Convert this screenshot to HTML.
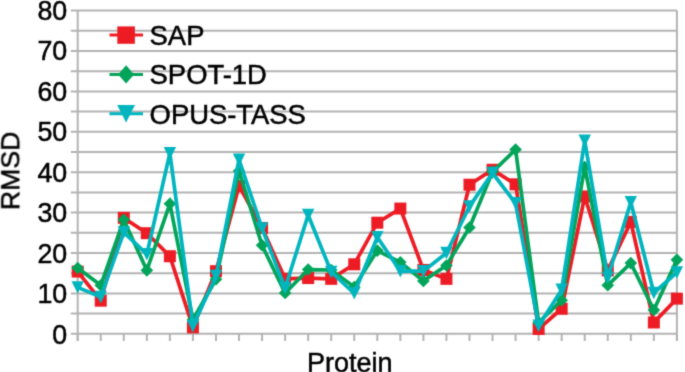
<!DOCTYPE html>
<html><head><meta charset="utf-8"><style>
html,body{margin:0;padding:0;background:#fff;}
body{width:685px;height:372px;overflow:hidden;}
svg{display:block;will-change:transform;}
text{font-family:"Liberation Sans",sans-serif;fill:#000;stroke:#000;stroke-width:0.5px;}
</style></head><body>
<svg width="685" height="372" viewBox="0 0 685 372">
<defs><filter id="bl" x="-5%" y="-5%" width="110%" height="110%" color-interpolation-filters="sRGB"><feConvolveMatrix order="3" kernelMatrix="0.02250 0.10500 0.02250 0.10500 0.49000 0.10500 0.02250 0.10500 0.02250" edgeMode="none"/></filter></defs>
<rect width="685" height="372" fill="#fff"/>
<g filter="url(#bl)">
<g stroke="#b3b3b3" stroke-width="2" fill="none">
<line x1="70.8" y1="333.80" x2="676.9" y2="333.80"/>
<line x1="70.8" y1="313.60" x2="676.9" y2="313.60"/>
<line x1="70.8" y1="293.40" x2="676.9" y2="293.40"/>
<line x1="70.8" y1="273.20" x2="676.9" y2="273.20"/>
<line x1="70.8" y1="253.00" x2="676.9" y2="253.00"/>
<line x1="70.8" y1="232.80" x2="676.9" y2="232.80"/>
<line x1="70.8" y1="212.60" x2="676.9" y2="212.60"/>
<line x1="70.8" y1="192.40" x2="676.9" y2="192.40"/>
<line x1="70.8" y1="172.20" x2="676.9" y2="172.20"/>
<line x1="70.8" y1="152.00" x2="676.9" y2="152.00"/>
<line x1="70.8" y1="131.80" x2="676.9" y2="131.80"/>
<line x1="70.8" y1="111.60" x2="676.9" y2="111.60"/>
<line x1="70.8" y1="91.40" x2="676.9" y2="91.40"/>
<line x1="70.8" y1="71.20" x2="676.9" y2="71.20"/>
<line x1="70.8" y1="51.00" x2="676.9" y2="51.00"/>
<line x1="70.8" y1="30.80" x2="676.9" y2="30.80"/>
<line x1="70.8" y1="10.60" x2="676.9" y2="10.60"/>
<line x1="676.9" y1="10.4" x2="676.9" y2="341"/>
<line x1="77.7" y1="10.4" x2="77.7" y2="341"/>
<line x1="77.70" y1="333.8" x2="77.70" y2="341"/>
<line x1="100.75" y1="333.8" x2="100.75" y2="341"/>
<line x1="123.79" y1="333.8" x2="123.79" y2="341"/>
<line x1="146.84" y1="333.8" x2="146.84" y2="341"/>
<line x1="169.88" y1="333.8" x2="169.88" y2="341"/>
<line x1="192.93" y1="333.8" x2="192.93" y2="341"/>
<line x1="215.98" y1="333.8" x2="215.98" y2="341"/>
<line x1="239.02" y1="333.8" x2="239.02" y2="341"/>
<line x1="262.07" y1="333.8" x2="262.07" y2="341"/>
<line x1="285.12" y1="333.8" x2="285.12" y2="341"/>
<line x1="308.16" y1="333.8" x2="308.16" y2="341"/>
<line x1="331.21" y1="333.8" x2="331.21" y2="341"/>
<line x1="354.25" y1="333.8" x2="354.25" y2="341"/>
<line x1="377.30" y1="333.8" x2="377.30" y2="341"/>
<line x1="400.35" y1="333.8" x2="400.35" y2="341"/>
<line x1="423.39" y1="333.8" x2="423.39" y2="341"/>
<line x1="446.44" y1="333.8" x2="446.44" y2="341"/>
<line x1="469.48" y1="333.8" x2="469.48" y2="341"/>
<line x1="492.53" y1="333.8" x2="492.53" y2="341"/>
<line x1="515.58" y1="333.8" x2="515.58" y2="341"/>
<line x1="538.62" y1="333.8" x2="538.62" y2="341"/>
<line x1="561.67" y1="333.8" x2="561.67" y2="341"/>
<line x1="584.72" y1="333.8" x2="584.72" y2="341"/>
<line x1="607.76" y1="333.8" x2="607.76" y2="341"/>
<line x1="630.81" y1="333.8" x2="630.81" y2="341"/>
<line x1="653.85" y1="333.8" x2="653.85" y2="341"/>
<line x1="676.90" y1="333.8" x2="676.90" y2="341"/>
</g>
<g font-size="26.8">
<text x="67.2" y="343.70" text-anchor="end">0</text>
<text x="67.2" y="303.21" text-anchor="end">10</text>
<text x="67.2" y="262.72" text-anchor="end">20</text>
<text x="67.2" y="222.24" text-anchor="end">30</text>
<text x="67.2" y="181.75" text-anchor="end">40</text>
<text x="67.2" y="141.26" text-anchor="end">50</text>
<text x="67.2" y="100.77" text-anchor="end">60</text>
<text x="67.2" y="60.28" text-anchor="end">70</text>
<text x="67.2" y="19.80" text-anchor="end">80</text>
</g>
<text font-size="26.6" transform="translate(19.3,170.8) rotate(-90)" text-anchor="middle">RMSD</text>
<text font-size="27" x="349.8" y="372" text-anchor="middle">Protein</text>
<g font-size="27.4">
<line x1="109.5" y1="35.10" x2="143.0" y2="35.10" stroke="#ed1c24" stroke-width="3"/>
<rect x="117.30" y="26.40" width="17.60" height="17.40" fill="#ed1c24"/>
<text x="149.6" y="45.10">SAP</text>
<line x1="109.5" y1="74.40" x2="143.0" y2="74.40" stroke="#02a45a" stroke-width="3"/>
<path d="M126.10 65.20L134.10 74.40L126.10 83.60L118.10 74.40Z" fill="#02a45a"/>
<text x="149.6" y="84.40">SPOT-1D</text>
<line x1="109.5" y1="113.70" x2="143.0" y2="113.70" stroke="#00b5be" stroke-width="3"/>
<path d="M117.20 105.00L135.00 105.00L126.10 122.40Z" fill="#00b5be"/>
<text x="149.6" y="123.70">OPUS-TASS</text>
</g>
<polyline points="77.70,271.58 100.75,300.67 123.79,217.85 146.84,233.20 169.88,256.23 192.93,327.34 215.98,271.18 239.02,185.94 262.07,227.95 285.12,278.86 308.16,278.05 331.21,278.86 354.25,264.31 377.30,222.70 400.35,208.56 423.39,269.97 446.44,278.86 469.48,184.72 492.53,169.78 515.58,184.32 538.62,328.95 561.67,308.75 584.72,196.44 607.76,270.37 630.81,221.89 653.85,322.49 676.90,298.65" fill="none" stroke="#ed1c24" stroke-width="3.7" stroke-linejoin="miter"/>
<rect x="71.70" y="265.58" width="12.00" height="12.00" fill="#ed1c24"/>
<rect x="94.75" y="294.67" width="12.00" height="12.00" fill="#ed1c24"/>
<rect x="117.79" y="211.85" width="12.00" height="12.00" fill="#ed1c24"/>
<rect x="140.84" y="227.20" width="12.00" height="12.00" fill="#ed1c24"/>
<rect x="163.88" y="250.23" width="12.00" height="12.00" fill="#ed1c24"/>
<rect x="186.93" y="321.34" width="12.00" height="12.00" fill="#ed1c24"/>
<rect x="209.98" y="265.18" width="12.00" height="12.00" fill="#ed1c24"/>
<rect x="233.02" y="179.94" width="12.00" height="12.00" fill="#ed1c24"/>
<rect x="256.07" y="221.95" width="12.00" height="12.00" fill="#ed1c24"/>
<rect x="279.12" y="272.86" width="12.00" height="12.00" fill="#ed1c24"/>
<rect x="302.16" y="272.05" width="12.00" height="12.00" fill="#ed1c24"/>
<rect x="325.21" y="272.86" width="12.00" height="12.00" fill="#ed1c24"/>
<rect x="348.25" y="258.31" width="12.00" height="12.00" fill="#ed1c24"/>
<rect x="371.30" y="216.70" width="12.00" height="12.00" fill="#ed1c24"/>
<rect x="394.35" y="202.56" width="12.00" height="12.00" fill="#ed1c24"/>
<rect x="417.39" y="263.97" width="12.00" height="12.00" fill="#ed1c24"/>
<rect x="440.44" y="272.86" width="12.00" height="12.00" fill="#ed1c24"/>
<rect x="463.48" y="178.72" width="12.00" height="12.00" fill="#ed1c24"/>
<rect x="486.53" y="163.78" width="12.00" height="12.00" fill="#ed1c24"/>
<rect x="509.58" y="178.32" width="12.00" height="12.00" fill="#ed1c24"/>
<rect x="532.62" y="322.95" width="12.00" height="12.00" fill="#ed1c24"/>
<rect x="555.67" y="302.75" width="12.00" height="12.00" fill="#ed1c24"/>
<rect x="578.72" y="190.44" width="12.00" height="12.00" fill="#ed1c24"/>
<rect x="601.76" y="264.37" width="12.00" height="12.00" fill="#ed1c24"/>
<rect x="624.81" y="215.89" width="12.00" height="12.00" fill="#ed1c24"/>
<rect x="647.85" y="316.49" width="12.00" height="12.00" fill="#ed1c24"/>
<rect x="670.90" y="292.65" width="12.00" height="12.00" fill="#ed1c24"/>
<polyline points="77.70,267.95 100.75,285.32 123.79,219.87 146.84,270.37 169.88,203.71 192.93,319.66 215.98,279.26 239.02,170.99 262.07,245.32 285.12,293.00 308.16,269.56 331.21,269.97 354.25,286.94 377.30,250.58 400.35,262.29 423.39,280.88 446.44,265.52 469.48,227.55 492.53,171.80 515.58,149.58 538.62,322.49 561.67,300.27 584.72,166.95 607.76,285.32 630.81,263.10 653.85,309.96 676.90,259.87" fill="none" stroke="#02a45a" stroke-width="3.7" stroke-linejoin="miter"/>
<path d="M77.70 261.65L84.00 267.95L77.70 274.25L71.40 267.95Z" fill="#02a45a"/>
<path d="M100.75 279.02L107.05 285.32L100.75 291.62L94.45 285.32Z" fill="#02a45a"/>
<path d="M123.79 213.57L130.09 219.87L123.79 226.17L117.49 219.87Z" fill="#02a45a"/>
<path d="M146.84 264.07L153.14 270.37L146.84 276.67L140.54 270.37Z" fill="#02a45a"/>
<path d="M169.88 197.41L176.18 203.71L169.88 210.01L163.58 203.71Z" fill="#02a45a"/>
<path d="M192.93 313.36L199.23 319.66L192.93 325.96L186.63 319.66Z" fill="#02a45a"/>
<path d="M215.98 272.96L222.28 279.26L215.98 285.56L209.68 279.26Z" fill="#02a45a"/>
<path d="M239.02 164.69L245.32 170.99L239.02 177.29L232.72 170.99Z" fill="#02a45a"/>
<path d="M262.07 239.02L268.37 245.32L262.07 251.62L255.77 245.32Z" fill="#02a45a"/>
<path d="M285.12 286.70L291.42 293.00L285.12 299.30L278.82 293.00Z" fill="#02a45a"/>
<path d="M308.16 263.26L314.46 269.56L308.16 275.86L301.86 269.56Z" fill="#02a45a"/>
<path d="M331.21 263.67L337.51 269.97L331.21 276.27L324.91 269.97Z" fill="#02a45a"/>
<path d="M354.25 280.64L360.55 286.94L354.25 293.24L347.95 286.94Z" fill="#02a45a"/>
<path d="M377.30 244.28L383.60 250.58L377.30 256.88L371.00 250.58Z" fill="#02a45a"/>
<path d="M400.35 255.99L406.65 262.29L400.35 268.59L394.05 262.29Z" fill="#02a45a"/>
<path d="M423.39 274.58L429.69 280.88L423.39 287.18L417.09 280.88Z" fill="#02a45a"/>
<path d="M446.44 259.22L452.74 265.52L446.44 271.82L440.14 265.52Z" fill="#02a45a"/>
<path d="M469.48 221.25L475.78 227.55L469.48 233.85L463.18 227.55Z" fill="#02a45a"/>
<path d="M492.53 165.50L498.83 171.80L492.53 178.10L486.23 171.80Z" fill="#02a45a"/>
<path d="M515.58 143.28L521.88 149.58L515.58 155.88L509.28 149.58Z" fill="#02a45a"/>
<path d="M538.62 316.19L544.92 322.49L538.62 328.79L532.32 322.49Z" fill="#02a45a"/>
<path d="M561.67 293.97L567.97 300.27L561.67 306.57L555.37 300.27Z" fill="#02a45a"/>
<path d="M584.72 160.65L591.02 166.95L584.72 173.25L578.42 166.95Z" fill="#02a45a"/>
<path d="M607.76 279.02L614.06 285.32L607.76 291.62L601.46 285.32Z" fill="#02a45a"/>
<path d="M630.81 256.80L637.11 263.10L630.81 269.40L624.51 263.10Z" fill="#02a45a"/>
<path d="M653.85 303.66L660.15 309.96L653.85 316.26L647.55 309.96Z" fill="#02a45a"/>
<path d="M676.90 253.57L683.20 259.87L676.90 266.17L670.60 259.87Z" fill="#02a45a"/>
<polyline points="77.70,287.34 100.75,297.04 123.79,232.40 146.84,254.21 169.88,153.21 192.93,326.12 215.98,276.03 239.02,159.68 262.07,228.36 285.12,288.15 308.16,215.02 331.21,271.99 354.25,293.40 377.30,237.24 400.35,271.18 423.39,271.18 446.44,253.00 469.48,206.54 492.53,173.01 515.58,203.31 538.62,325.72 561.67,289.76 584.72,140.69 607.76,277.64 630.81,202.10 653.85,293.00 676.90,272.39" fill="none" stroke="#00b5be" stroke-width="3.7" stroke-linejoin="miter"/>
<path d="M71.50 281.14L83.90 281.14L77.70 293.54Z" fill="#00b5be"/>
<path d="M94.55 290.84L106.95 290.84L100.75 303.24Z" fill="#00b5be"/>
<path d="M117.59 226.20L129.99 226.20L123.79 238.60Z" fill="#00b5be"/>
<path d="M140.64 248.01L153.04 248.01L146.84 260.41Z" fill="#00b5be"/>
<path d="M163.68 147.01L176.08 147.01L169.88 159.41Z" fill="#00b5be"/>
<path d="M186.73 319.92L199.13 319.92L192.93 332.32Z" fill="#00b5be"/>
<path d="M209.78 269.83L222.18 269.83L215.98 282.23Z" fill="#00b5be"/>
<path d="M232.82 153.48L245.22 153.48L239.02 165.88Z" fill="#00b5be"/>
<path d="M255.87 222.16L268.27 222.16L262.07 234.56Z" fill="#00b5be"/>
<path d="M278.92 281.95L291.32 281.95L285.12 294.35Z" fill="#00b5be"/>
<path d="M301.96 208.82L314.36 208.82L308.16 221.22Z" fill="#00b5be"/>
<path d="M325.01 265.79L337.41 265.79L331.21 278.19Z" fill="#00b5be"/>
<path d="M348.05 287.20L360.45 287.20L354.25 299.60Z" fill="#00b5be"/>
<path d="M371.10 231.04L383.50 231.04L377.30 243.44Z" fill="#00b5be"/>
<path d="M394.15 264.98L406.55 264.98L400.35 277.38Z" fill="#00b5be"/>
<path d="M417.19 264.98L429.59 264.98L423.39 277.38Z" fill="#00b5be"/>
<path d="M440.24 246.80L452.64 246.80L446.44 259.20Z" fill="#00b5be"/>
<path d="M463.28 200.34L475.68 200.34L469.48 212.74Z" fill="#00b5be"/>
<path d="M486.33 166.81L498.73 166.81L492.53 179.21Z" fill="#00b5be"/>
<path d="M509.38 197.11L521.78 197.11L515.58 209.51Z" fill="#00b5be"/>
<path d="M532.42 319.52L544.82 319.52L538.62 331.92Z" fill="#00b5be"/>
<path d="M555.47 283.56L567.87 283.56L561.67 295.96Z" fill="#00b5be"/>
<path d="M578.52 134.49L590.92 134.49L584.72 146.89Z" fill="#00b5be"/>
<path d="M601.56 271.44L613.96 271.44L607.76 283.84Z" fill="#00b5be"/>
<path d="M624.61 195.90L637.01 195.90L630.81 208.30Z" fill="#00b5be"/>
<path d="M647.65 286.80L660.05 286.80L653.85 299.20Z" fill="#00b5be"/>
<path d="M670.70 266.19L683.10 266.19L676.90 278.59Z" fill="#00b5be"/>
</g>
</svg>
</body></html>
